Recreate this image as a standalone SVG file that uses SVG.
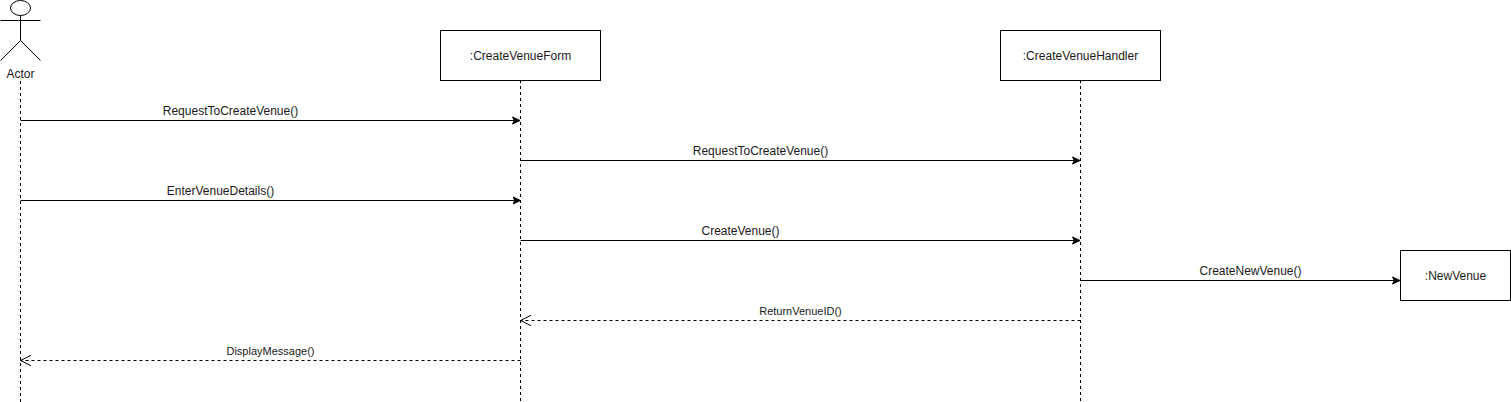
<svg xmlns="http://www.w3.org/2000/svg" width="1511" height="402" viewBox="0 0 1511 402">
<style>
text{font-family:"Liberation Sans",Arial,sans-serif;font-size:12px;fill:#1a1a1a;text-anchor:middle}
.small{font-size:11px}
.box{fill:#fff;stroke:#000;stroke-width:1}
.shape{fill:none;stroke:#000;stroke-width:1}
.life{fill:none;stroke:#000;stroke-width:1;stroke-dasharray:3 3}
.msg{fill:none;stroke:#000;stroke-width:1;marker-end:url(#solid)}
.ret{fill:none;stroke:#000;stroke-width:1;stroke-dasharray:3 3;marker-end:url(#open)}
</style>
<defs>
<marker id="solid" markerUnits="userSpaceOnUse" markerWidth="9" markerHeight="10" refX="8" refY="4.5" orient="auto"><path d="M0.5 1L8 4.5L0.5 8L2.3 4.5Z" fill="#000" stroke="#000"/></marker>
<marker id="open" markerUnits="userSpaceOnUse" markerWidth="12" markerHeight="12" refX="11" refY="6" orient="auto"><path d="M0.5 0.8L11 6L0.5 11.2" fill="none" stroke="#000"/></marker>
</defs>
<rect width="1511" height="402" fill="#fff"/>
<g id="connectors">
<path class="msg" d="M20.500 120.500H520"/>
<path class="msg" d="M520.500 160.500H1080"/>
<path class="msg" d="M20.500 200.500H520.500"/>
<path class="msg" d="M520.500 240.500H1080"/>
<path class="msg" d="M1080.500 280.500H1400"/>
<path class="ret" d="M1080.500 320.500H520.500"/>
<path class="ret" d="M520.500 360.500H20.500"/>
<text x="230.500" y="115">RequestToCreateVenue()</text>
<text x="760.500" y="155">RequestToCreateVenue()</text>
<text x="220.500" y="195">EnterVenueDetails()</text>
<text x="740.500" y="235">CreateVenue()</text>
<text x="1250.500" y="275">CreateNewVenue()</text>
<text class="small" x="800.500" y="315">ReturnVenueID()</text>
<text class="small" x="270.500" y="355">DisplayMessage()</text>
</g>
<g id="actor">
<ellipse class="shape" cx="20.500" cy="8" rx="10" ry="7.500"/>
<path class="shape" d="M20.500 15.500V40.500M0.500 20.500H40.500M20.500 40.500L0.500 60.500M20.500 40.500L40.500 60.500"/>
<text x="20.500" y="78">Actor</text>
<path class="life" d="M20.500 81V402"/>
</g>
<g id="create-venue-form">
<path class="life" d="M520.500 80V402"/>
<rect class="box" x="440.500" y="30.500" width="160" height="50"/>
<text x="520.500" y="60">:CreateVenueForm</text>
</g>
<g id="create-venue-handler">
<path class="life" d="M1080.500 80V402"/>
<rect class="box" x="1000.500" y="30.500" width="160" height="50"/>
<text x="1080.500" y="60">:CreateVenueHandler</text>
</g>
<g id="new-venue">
<rect class="box" x="1400.500" y="250.500" width="110" height="50"/>
<text x="1455.500" y="280">:NewVenue</text>
</g>
</svg>
